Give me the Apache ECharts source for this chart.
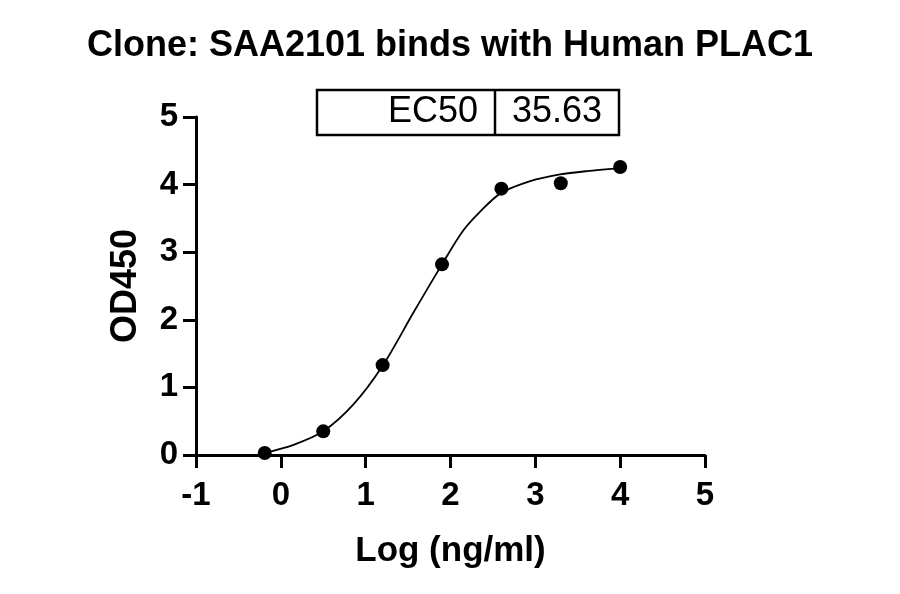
<!DOCTYPE html>
<html>
<head>
<meta charset="utf-8">
<script src="https://cdn.jsdelivr.net/npm/echarts@6/dist/echarts.min.js"></script>
<style>
html,body{margin:0;padding:0;background:#fff;}
#c{width:900px;height:594px;}
</style>
</head>
<body>
<div id="c"></div>
<script>
// Measured points: log concentration (ng/ml) vs OD450
const logConc = [-0.19, 0.50, 1.20, 1.90, 2.60, 3.30, 4.00];
const od450 = [0.03, 0.35, 1.33, 2.82, 3.94, 4.02, 4.26];
// Fitted curve
const curveX = [-0.19, 0.15, 0.50, 0.85, 1.20, 1.56, 1.90, 2.15, 2.35, 2.59, 2.94, 3.29, 3.61, 3.98];
const curveY = [0.03, 0.15, 0.35, 0.74, 1.32, 2.10, 2.82, 3.32, 3.60, 3.87, 4.05, 4.15, 4.20, 4.24];
const xTicks = [-1, 0, 1, 2, 3, 4, 5];
const yTicks = [0, 1, 2, 3, 4, 5];
const titleText = 'Clone: SAA2101 binds with Human PLAC1';
const ec50Label = 'EC50';
const ec50Value = '35.63';

const font = 'Liberation Sans, Arial, Helvetica, sans-serif';
const chart = echarts.init(document.getElementById('c'), null, {renderer: 'canvas'});
const axisCommon = {
  axisLine: {show: true, onZero: false, lineStyle: {color: '#000', width: 3}},
  axisTick: {show: true, inside: false, length: 13, lineStyle: {color: '#000', width: 3}},
  splitLine: {show: false},
  nameTextStyle: {color: '#000', fontSize: 35, fontWeight: 'bold', fontFamily: font},
  axisLabel: {color: '#000', fontSize: 33, fontWeight: 'bold', fontFamily: font}
};
chart.setOption({
  animation: false,
  backgroundColor: '#fff',
  title: {
    text: titleText, left: 'center', top: 23,
    textStyle: {color: '#000', fontSize: 36, fontWeight: 'bold', fontFamily: font}
  },
  grid: {left: 196, right: 195, top: 117, bottom: 139, containLabel: false},
  xAxis: Object.assign({}, axisCommon, {
    type: 'value', min: xTicks[0], max: xTicks[xTicks.length - 1], interval: 1,
    name: 'Log (ng/ml)', nameLocation: 'middle', nameGap: 79,
    axisLabel: Object.assign({}, axisCommon.axisLabel, {margin: 24})
  }),
  yAxis: Object.assign({}, axisCommon, {
    type: 'value', min: yTicks[0], max: yTicks[yTicks.length - 1], interval: 1,
    name: 'OD450', nameLocation: 'middle', nameGap: 52,
    nameTextStyle: Object.assign({}, axisCommon.nameTextStyle, {fontSize: 36}),
    axisLabel: Object.assign({}, axisCommon.axisLabel, {margin: 18})
  }),
  series: [
    {
      type: 'line', data: curveX.map((x, i) => [x, curveY[i]]),
      smooth: 0.3, showSymbol: false, symbol: 'none',
      lineStyle: {color: '#000', width: 1.8}, z: 2
    },
    {
      type: 'scatter', data: logConc.map((x, i) => [x, od450[i]]),
      symbol: 'circle', symbolSize: 14,
      itemStyle: {color: '#000', opacity: 1}, z: 3
    }
  ],
  graphic: [
    {type: 'rect', shape: {x: 317, y: 90, width: 302, height: 45},
     style: {fill: '#fff', stroke: '#000', lineWidth: 2.5}},
    {type: 'line', shape: {x1: 495, y1: 90, x2: 495, y2: 135},
     style: {stroke: '#000', lineWidth: 2.5}},
    {type: 'text', x: 478, y: 112,
     style: {text: ec50Label, fill: '#000', fontSize: 36, fontFamily: font, align: 'right', verticalAlign: 'middle'}},
    {type: 'text', x: 557, y: 112,
     style: {text: ec50Value, fill: '#000', fontSize: 36, fontFamily: font, align: 'center', verticalAlign: 'middle'}}
  ]
});
</script>
</body>
</html>
